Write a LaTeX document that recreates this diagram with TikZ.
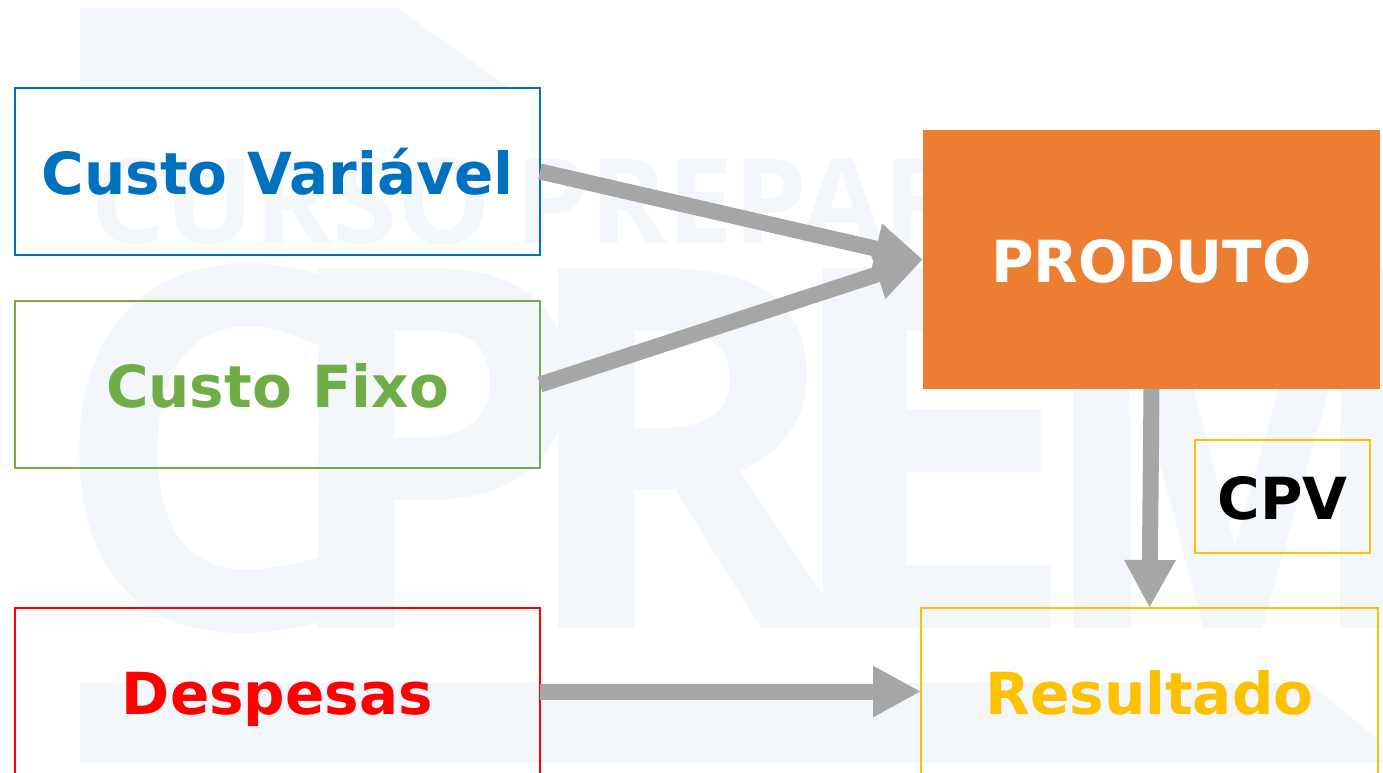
\documentclass[tikz,border=0pt]{standalone}
\usepackage{fontspec}
\setmainfont{DejaVu Sans}
\newfontfamily\markfont{Open Sans}
\usetikzlibrary{arrows.meta}
\definecolor{markblue}{HTML}{F3F6FB}
\definecolor{arrowgray}{HTML}{A6A6A6}
\definecolor{cvblue}{HTML}{0070C0}
\definecolor{cfgreen}{HTML}{70AD47}
\definecolor{prodorange}{HTML}{ED7D31}
\definecolor{resyellow}{HTML}{FFC000}
\tikzset{
  labelbox/.style={inner sep=0pt,outer sep=0pt,text height=23pt,text depth=0pt,font=\fontsize{29}{29}\bfseries},
  costbox/.style={labelbox,draw=#1,line width=1pt,text=#1,minimum width=262.5pt,minimum height=83.5pt},
  flow/.style={arrowgray,line width=8pt,-{Triangle[length=24pt,width=24pt]}},
  bigletter/.style={anchor=base west,inner sep=0pt,text=markblue,font=\fontsize{252}{252}\markfont\bfseries},
}
\begin{document}
\begin{tikzpicture}[x=0.5pt,y=-0.5pt]
\path[use as bounding box,clip] (0,0) rectangle (1383,772);

% marca d'agua
\fill[markblue] (80,8)--(397,8)--(510,88)--(80,88)--cycle;
\fill[markblue] (80,683)--(1310,683)--(1383,744)--(1383,763)--(80,763)--cycle;
\node[anchor=base west,inner sep=0pt,text=markblue,font=\fontsize{59}{59}\markfont\bfseries] (markline) at (90,243){CURSO\hspace{12pt}PREPAR};
\node[bigletter] (markC) at (50,628){C};
\node[bigletter] (markP) at (273,628){P};
\node[bigletter] (markR) at (513,628){R};
\node[bigletter,xscale=1.1,transform shape] (markE) at (773,628){E};
\node[bigletter,xscale=0.85,transform shape] (markM) at (1035,628){M};

% caixas
\node[costbox=cvblue] (variavel) at (277.5,171.5){Custo Variável};
\node[costbox=cfgreen] (fixo) at (277.5,384.5){Custo Fixo};
\node[costbox=red] (despesas) at (277.5,691.5){Despesas};
\node[costbox=resyellow,minimum width=228.5pt] (resultado) at (1149.5,691.5){Resultado};
\node[labelbox,fill=prodorange,text=white,minimum width=228.5pt,minimum height=129.5pt] (produto) at (1151.5,259.5){PRODUTO};
\node[labelbox,draw=resyellow,line width=0.75pt,minimum width=87.5pt,minimum height=56.5pt] (cpv) at (1282.5,496.5){CPV};

% setas
\draw[flow] (variavel.east)--(produto.west);
\draw[flow] (fixo.east)--(produto.west);
\draw[flow] (produto.south)--(resultado.north);
\draw[flow] (despesas.east)--(resultado.west);
\end{tikzpicture}
\end{document}
